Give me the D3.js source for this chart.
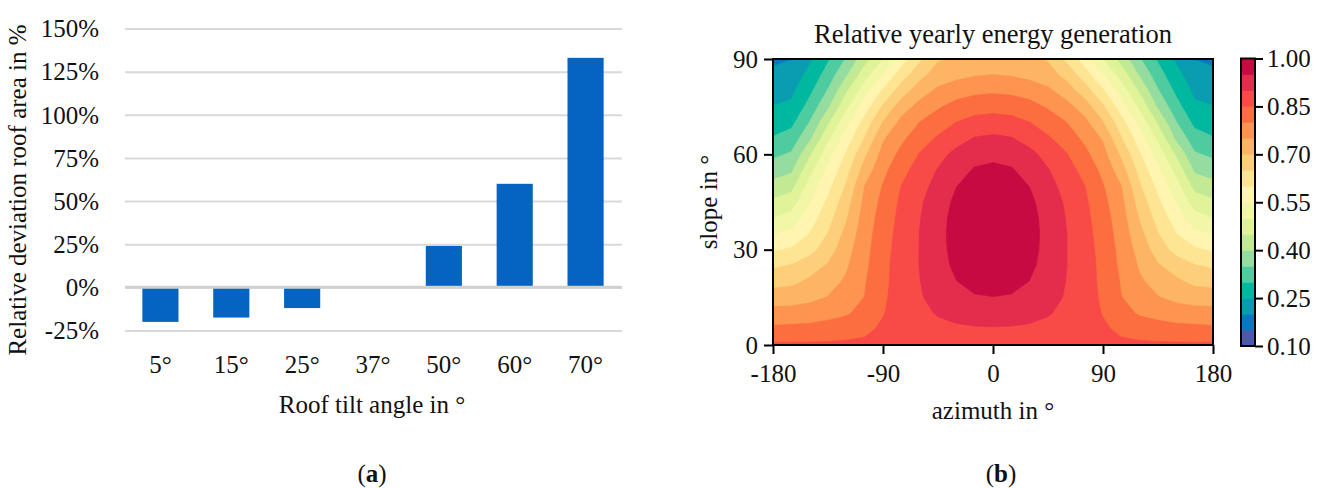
<!DOCTYPE html>
<html><head><meta charset="utf-8">
<script src="https://cdn.jsdelivr.net/npm/d3@7"></script>
<style>
body{margin:0;background:#fff;}
svg text{font-family:"Liberation Serif","Times New Roman",serif;fill:#111;}
</style></head><body>
<svg id="c" width="1330" height="488"></svg>
<script>
// ---------- data: panel (a) ----------
const tiltCategories = ["5°","15°","25°","37°","50°","60°","70°"];
const roofAreaDeviation = [-20, -17.5, -12, 0, 24, 60, 133];
const pctTicks = [-25, 0, 25, 50, 75, 100, 125, 150];

// ---------- data: panel (b) ----------
const azimuths = [-180,-165,-150,-135,-120,-105,-90,-75,-60,-45,-30,-15,0,15,30,45,60,75,90,105,120,135,150,165,180];
const slopes = [0,5,10,15,20,25,30,35,40,45,50,55,60,65,70,75,80,85,90];
const azTicks = [-180,-90,0,90,180];
const slopeTicks = [0,30,60,90];
const levels = [0.10,0.15,0.20,0.25,0.30,0.35,0.40,0.45,0.50,0.55,0.60,0.65,0.70,0.75,0.80,0.85,0.90,0.95,1.00];
const levelColors = ["#4b5aaa","#0a78c0","#0a9cb0","#00b8a0","#4ecca0","#95dca0","#c2ea95","#e0f398","#f2f7a8",
                     "#fff5b0","#fee594","#fecf7a","#fdb565","#fd9450","#fc6e3f","#f84b48","#e42c4c","#c80a43"];
const cbarTicks = [0.10,0.25,0.40,0.55,0.70,0.85,1.00];
// relative yearly energy: one row per slope (0..90 step 5), one column per azimuth (-180..180 step 15)
const yieldRows = [
 [.858,.858,.858,.858,.858,.858,.858,.858,.858,.858,.858,.858,.858,.858,.858,.858,.858,.858,.858,.858,.858,.858,.858,.858,.858],
 [.810,.813,.815,.822,.831,.842,.856,.868,.878,.886,.892,.895,.896,.895,.892,.886,.878,.868,.856,.842,.831,.822,.815,.813,.810],
 [.768,.770,.774,.783,.794,.818,.848,.868,.887,.904,.915,.921,.923,.921,.915,.904,.887,.868,.848,.818,.794,.783,.774,.770,.768],
 [.725,.728,.737,.752,.777,.801,.843,.870,.895,.919,.936,.946,.949,.946,.936,.919,.895,.870,.843,.801,.777,.752,.737,.728,.725],
 [.683,.688,.709,.732,.757,.796,.839,.871,.899,.924,.949,.965,.970,.965,.949,.924,.899,.871,.839,.796,.757,.732,.709,.688,.683],
 [.642,.653,.677,.705,.744,.789,.837,.871,.901,.931,.960,.978,.984,.978,.960,.931,.901,.871,.837,.789,.744,.705,.677,.653,.642],
 [.594,.607,.633,.676,.732,.784,.833,.870,.901,.934,.966,.986,.992,.986,.966,.934,.901,.870,.833,.784,.732,.676,.633,.607,.594],
 [.546,.562,.601,.652,.715,.778,.828,.868,.901,.935,.968,.988,.995,.988,.968,.935,.901,.868,.828,.778,.715,.652,.601,.562,.546],
 [.499,.518,.575,.631,.696,.771,.822,.864,.898,.933,.966,.986,.993,.986,.966,.933,.898,.864,.822,.771,.696,.631,.575,.518,.499],
 [.459,.476,.546,.610,.678,.762,.814,.859,.893,.927,.960,.980,.986,.980,.960,.927,.893,.859,.814,.762,.678,.610,.546,.476,.459],
 [.416,.434,.518,.586,.656,.751,.803,.851,.883,.916,.949,.969,.975,.969,.949,.916,.883,.851,.803,.751,.656,.586,.518,.434,.416],
 [.377,.392,.483,.560,.633,.721,.787,.834,.871,.903,.930,.955,.962,.955,.930,.903,.871,.834,.787,.721,.633,.560,.483,.392,.377],
 [.340,.356,.442,.529,.605,.691,.767,.813,.853,.884,.913,.931,.937,.931,.913,.884,.853,.813,.767,.691,.605,.529,.442,.356,.340],
 [.304,.321,.390,.489,.574,.653,.744,.790,.826,.857,.882,.903,.909,.903,.882,.857,.826,.790,.744,.653,.574,.489,.390,.321,.304],
 [.276,.288,.352,.443,.535,.619,.703,.764,.801,.825,.851,.867,.873,.867,.851,.825,.801,.764,.703,.619,.535,.443,.352,.288,.276],
 [.251,.259,.318,.392,.488,.575,.658,.726,.767,.795,.817,.829,.833,.829,.817,.795,.767,.726,.658,.575,.488,.392,.318,.259,.251],
 [.231,.240,.289,.354,.443,.528,.607,.675,.726,.760,.778,.789,.793,.789,.778,.760,.726,.675,.607,.528,.443,.354,.289,.240,.231],
 [.212,.224,.264,.322,.394,.478,.552,.625,.685,.722,.736,.746,.751,.746,.736,.722,.685,.625,.552,.478,.394,.322,.264,.224,.212],
 [.190,.199,.242,.294,.355,.430,.499,.575,.640,.695,.708,.711,.712,.711,.708,.695,.640,.575,.499,.430,.355,.294,.242,.199,.190]
];

const svg = d3.select("#c");
const FS = 25;
const FF = "Liberation Serif";

// ================= Panel (a) =================
const aLeft = 125, aRight = 622;
const yL = d3.scaleLinear().domain([-25, 150]).range([330.5, 28.5]);
const xL = d3.scaleBand().domain(tiltCategories).range([aLeft, 621]).paddingInner(0.49).paddingOuter(0.245);

const gyA = svg.append("g").attr("transform", `translate(${aLeft},0)`)
  .call(d3.axisLeft(yL).tickValues(pctTicks).tickSize(-(aRight - aLeft)).tickPadding(26).tickFormat(d => String(d) + "%"));
gyA.select(".domain").remove();
gyA.selectAll(".tick line").attr("stroke", "#d9d9d9").attr("stroke-width", 2);
gyA.selectAll(".tick text").attr("font-size", FS).attr("dy", "0.33em").style("font-family", FF);

svg.append("g").selectAll("rect").data(roofAreaDeviation).join("rect")
  .attr("x", (d, i) => xL(tiltCategories[i]))
  .attr("width", xL.bandwidth())
  .attr("y", d => yL(Math.max(0, d)))
  .attr("height", d => Math.abs(yL(d) - yL(0)))
  .attr("fill", "#0563c1");

svg.append("line").attr("x1", aLeft).attr("x2", aRight).attr("y1", yL(0)).attr("y2", yL(0))
  .attr("stroke", "#d0d0d0").attr("stroke-width", 3);

const gxA = svg.append("g").attr("transform", `translate(0,${yL(-25)})`)
  .call(d3.axisBottom(xL).tickSize(0));
gxA.select(".domain").remove();
gxA.selectAll(".tick text").attr("font-size", FS).attr("dy", 0).attr("y", 373 - yL(-25)).style("font-family", FF);

svg.append("text").attr("x", 372).attr("y", 413).attr("text-anchor", "middle").attr("font-size", FS)
  .text("Roof tilt angle in °");
svg.append("text").attr("transform", "translate(25.5,190) rotate(-90)").attr("text-anchor", "middle")
  .attr("font-size", FS).text("Relative deviation roof area in %");

const capA = svg.append("text").attr("x", 372).attr("y", 482).attr("text-anchor", "middle").attr("font-size", FS);
capA.append("tspan").text("(");
capA.append("tspan").attr("font-weight", "bold").text("a");
capA.append("tspan").text(")");

// ================= Panel (b) =================
const bx0 = 773, bx1 = 1213, by0 = 59, by1 = 345;
const xR = d3.scaleLinear().domain([-180, 180]).range([bx0, bx1]);
const yR = d3.scaleLinear().domain([0, 90]).range([by1, by0]);
const nx = azimuths.length, ny = slopes.length;
const gx = d3.scaleLinear().domain([0.5, nx - 0.5]).range([xR(azimuths[0]), xR(azimuths[nx - 1])]);
const gy = d3.scaleLinear().domain([0.5, ny - 0.5]).range([yR(slopes[0]), yR(slopes[ny - 1])]);

svg.append("defs").append("clipPath").attr("id", "plotclip")
  .append("rect").attr("x", bx0).attr("y", by0).attr("width", bx1 - bx0).attr("height", by1 - by0);

const contours = d3.contours().size([nx, ny]).thresholds(levels.slice(0, -1))(yieldRows.flat());
const proj = d3.geoTransform({ point(x, y) { this.stream.point(gx(x), gy(y)); } });
const path = d3.geoPath(proj);
const colorOf = v => levelColors[levels.findIndex(l => Math.abs(l - v) < 1e-9)];
svg.append("g").attr("clip-path", "url(#plotclip)")
  .selectAll("path").data(contours).join("path")
  .attr("d", path)
  .attr("fill", d => colorOf(d.value))
  .attr("stroke", d => colorOf(d.value))
  .attr("stroke-width", 0.6);

svg.append("rect").attr("x", bx0).attr("y", by0).attr("width", bx1 - bx0).attr("height", by1 - by0)
  .attr("fill", "none").attr("stroke", "#000").attr("stroke-width", 2);

const gxB = svg.append("g").attr("transform", `translate(0,${by1})`)
  .call(d3.axisBottom(xR).tickValues(azTicks).tickSize(9).tickPadding(7).tickFormat(d => String(d)));
gxB.select(".domain").remove();
gxB.selectAll(".tick line").attr("stroke", "#000").attr("stroke-width", 2);
gxB.selectAll(".tick text").attr("font-size", FS).attr("dy", 0).attr("y", 382 - by1).style("font-family", FF);

const gyB = svg.append("g").attr("transform", `translate(${bx0},0)`)
  .call(d3.axisLeft(yR).tickValues(slopeTicks).tickSize(9).tickPadding(6).tickFormat(d => String(d)));
gyB.select(".domain").remove();
gyB.selectAll(".tick line").attr("stroke", "#000").attr("stroke-width", 2);
gyB.selectAll(".tick text").attr("font-size", FS).attr("dy", "0.33em").style("font-family", FF);

svg.append("text").attr("x", (bx0 + bx1) / 2).attr("y", 43).attr("text-anchor", "middle").attr("font-size", 26.5)
  .text("Relative yearly energy generation");
svg.append("text").attr("x", (bx0 + bx1) / 2).attr("y", 419).attr("text-anchor", "middle").attr("font-size", FS)
  .text("azimuth in °");
svg.append("text").attr("transform", `translate(717,${(by0 + by1) / 2}) rotate(-90)`).attr("text-anchor", "middle")
  .attr("font-size", FS).text("slope in °");

// colorbar
const cbx = 1241, cbw = 14;
const yC = d3.scaleLinear().domain([levels[0], levels[levels.length - 1]]).range([346, 58.5]);
svg.append("g").selectAll("rect").data(levelColors).join("rect")
  .attr("x", cbx).attr("width", cbw)
  .attr("y", (d, i) => yC(levels[i + 1]))
  .attr("height", (d, i) => yC(levels[i]) - yC(levels[i + 1]) + 0.5)
  .attr("fill", d => d);
svg.append("rect").attr("x", cbx).attr("y", yC(1)).attr("width", cbw).attr("height", yC(0.1) - yC(1))
  .attr("fill", "none").attr("stroke", "#000").attr("stroke-width", 2);
const gC = svg.append("g").attr("transform", `translate(${cbx + cbw},0)`)
  .call(d3.axisRight(yC).tickValues(cbarTicks).tickSize(8).tickPadding(4).tickFormat(d3.format(".2f")));
gC.select(".domain").remove();
gC.selectAll(".tick line").attr("stroke", "#000").attr("stroke-width", 2);
gC.selectAll(".tick text").attr("font-size", FS).attr("dy", "0.33em").style("font-family", FF);

const capB = svg.append("text").attr("x", 1001).attr("y", 482).attr("text-anchor", "middle").attr("font-size", FS);
capB.append("tspan").text("(");
capB.append("tspan").attr("font-weight", "bold").text("b");
capB.append("tspan").text(")");
</script>
</body></html>
